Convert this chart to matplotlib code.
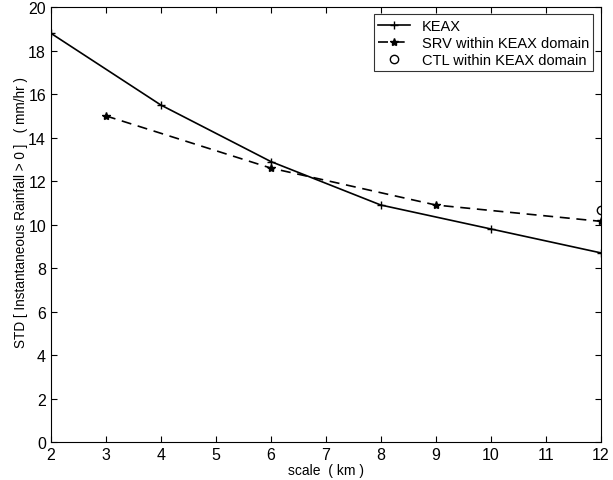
import matplotlib
matplotlib.use("Agg")
import matplotlib.pyplot as plt

# data
keax_scale = [2, 4, 6, 8, 10, 12]
keax_std = [18.8, 15.5, 12.9, 10.9, 9.8, 8.7]
srv_scale = [3, 6, 9, 12]
srv_std = [15.0, 12.6, 10.9, 10.15]
ctl_scale = [12]
ctl_std = [10.65]

plt.rcParams['font.family'] = ['Liberation Sans', 'DejaVu Sans']
plt.rcParams['font.size'] = 10

fig = plt.figure(figsize=(6.13, 4.81), dpi=100)
ax = fig.add_axes([0.083, 0.079, 0.897, 0.904])

ax.plot(keax_scale, keax_std, color='black', linestyle='-', linewidth=1.2,
        marker='+', markersize=6, label='KEAX')
ax.plot(srv_scale, srv_std, color='black', linestyle=(0, (6, 4)), linewidth=1.2,
        marker='*', markersize=6, label='SRV within KEAX domain')
ax.plot(ctl_scale, ctl_std, color='black', linestyle='none',
        marker='o', markersize=6, markerfacecolor='none', label='CTL within KEAX domain')

ax.set_xlim(2, 12)
ax.set_ylim(0, 20)
ax.set_xticks(range(2, 13))
ax.set_yticks(range(0, 21, 2))
ax.tick_params(direction='in', top=True, right=True, length=4, labelsize=11.5)
ax.set_xlabel("scale  ( km )", fontsize=10, labelpad=1)
ax.set_ylabel("STD [ Instantaneous Rainfall > 0 ]   ( mm/hr )", fontsize=9.8)
ax.yaxis.set_label_coords(-0.042, 0.53)

leg = ax.legend(loc='upper right', fontsize=10.5, frameon=True, fancybox=False,
                edgecolor='black', handlelength=2.2, borderaxespad=0.5,
                labelspacing=0.2, borderpad=0.3)
leg.get_frame().set_linewidth(0.8)

fig.savefig("out.png", dpi=100)
